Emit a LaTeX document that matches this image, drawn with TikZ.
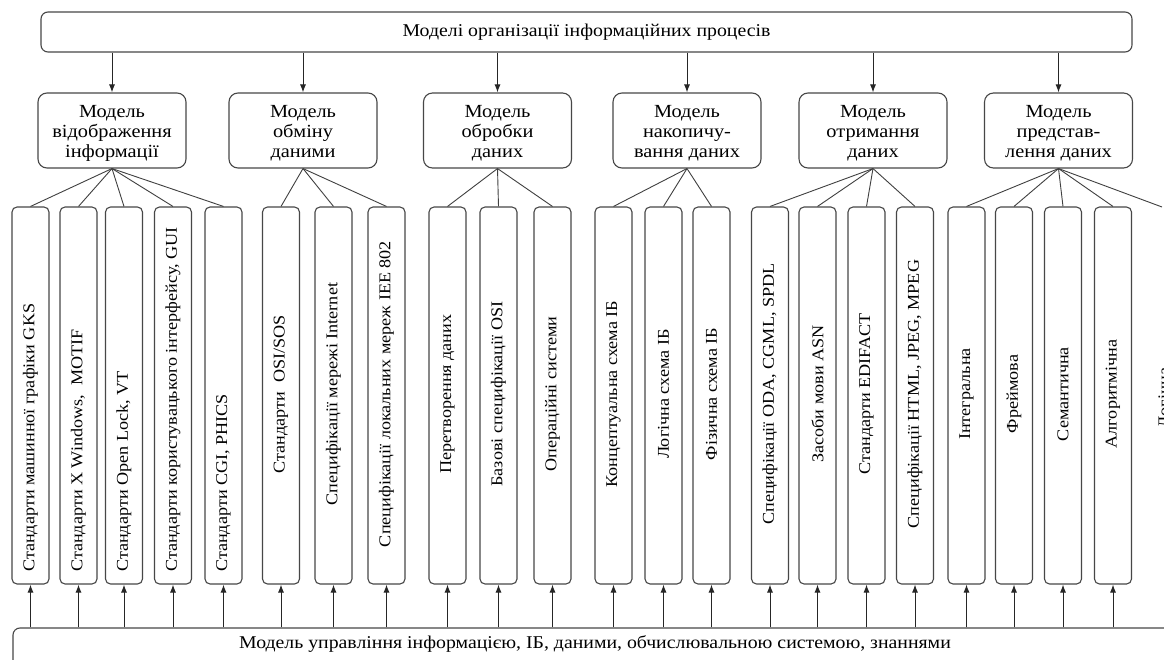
\documentclass[tikz,border=0pt]{standalone}
\usepackage{fontspec}
\setmainfont[FakeStretch=1.1]{Liberation Serif}
\usetikzlibrary{arrows.meta}
\begin{document}
\begin{tikzpicture}[x=1pt,y=-1pt,
  boxline/.style={draw=black!72,line width=1.1pt},
  topbox/.style={boxline,rounded corners=7pt,minimum width=1091pt,minimum height=40pt,inner sep=0pt,font=\fontsize{18}{20}\selectfont},
  modbox/.style={boxline,rounded corners=9pt,minimum width=148pt,minimum height=75pt,inner sep=0pt},
  modtext/.style={align=center,inner sep=0pt,font=\fontsize{18.5}{20}\selectfont},
  vbox/.style={boxline,rounded corners=5pt,minimum width=37pt,minimum height=377pt,inner sep=0pt},
  vtext/.style={rotate=90,inner sep=0pt,font=\fontsize{16.5}{18}\selectfont},
  arr/.style={draw=black!85,line width=1pt,-{Latex[length=8pt,width=6pt]}},
  link/.style={draw=black!75,line width=0.9pt}
]
\useasboundingbox (0,0) rectangle (1164,660);
\fill[white] (0,0) rectangle (1164,660);
\begin{scope}
\clip (0,0) rectangle (1164,660);

% top box
\node[topbox] (top) at (586.5,32) {Моделі організації інформаційних процесів};

% model boxes
\node[modbox] (m1) at (112,130.5) {};
\node[modbox] (m2) at (303,130.5) {};
\node[modbox] (m3) at (497.5,130.5) {};
\node[modbox] (m4) at (687,130.5) {};
\node[modbox] (m5) at (873,130.5) {};
\node[modbox] (m6) at (1058.5,130.5) {};
\node[modtext] at ([yshift=-3pt]m1.center) {Модель\\відображення\\інформації};
\node[modtext] at ([yshift=-3pt]m2.center) {Модель\\обміну\\даними};
\node[modtext] at ([yshift=-3pt]m3.center) {Модель\\обробки\\даних};
\node[modtext] at ([yshift=-3pt]m4.center) {Модель\\накопичу-\\вання даних};
\node[modtext] at ([yshift=-3pt]m5.center) {Модель\\отримання\\даних};
\node[modtext] at ([yshift=-3pt]m6.center) {Модель\\представ-\\лення даних};

\foreach \m in {1,...,6} \draw[arr] (top.south -| m\m) -- (m\m.north);

% vertical boxes
\foreach \n/\x in {1/30.5,2/78.5,3/124,4/173,5/223.5,6/281,7/333.5,8/386.5,
  9/447.5,10/498.5,11/552.5,12/613.5,13/663.5,14/711.5,15/770,16/817.5,
  17/866.5,18/915,19/966.5,20/1014,21/1063,22/1113}
  \node[vbox] (b\n) at (\x,395.5) {};

% texts anchored at bottom
\node[vtext,anchor=west] at (b1.center |- 0,572) {Стандарти машинної графіки GKS};
\node[vtext,anchor=west] at (b2.center |- 0,572) {Стандарти X Windows,\ \ MOTIF};
\node[vtext,anchor=west] at (b3.center |- 0,572) {Стандарти Open Lock, VT};
\node[vtext,anchor=west] at (b4.center |- 0,572) {Стандарти користувацького інтерфейсу, GUI};
\node[vtext,anchor=west] at (b5.center |- 0,572) {Стандарти CGI, PHICS};
% centered texts
\node[vtext] at (b6.center |- 0,394) {Стандарти\ \ OSI/SOS};
\node[vtext] at (b7.center |- 0,394) {Специфікації мережі Internet};
\node[vtext] at (b8.center |- 0,394) {Специфікації локальних мереж IEE 802};
\node[vtext] at (b9.center |- 0,394) {Перетворення даних};
\node[vtext] at (b10.center |- 0,394) {Базові специфікації OSI};
\node[vtext] at (b11.center |- 0,394) {Операційні системи};
\node[vtext] at (b12.center |- 0,394) {Концептуальна схема ІБ};
\node[vtext] at (b13.center |- 0,394) {Логічна схема ІБ};
\node[vtext] at (b14.center |- 0,394) {Фізична схема ІБ};
\node[vtext] at (b15.center |- 0,394) {Специфікації ODA, CGML, SPDL};
\node[vtext] at (b16.center |- 0,394) {Засоби мови ASN};
\node[vtext] at (b17.center |- 0,394) {Стандарти EDIFACT};
\node[vtext] at (b18.center |- 0,394) {Специфікації HTML, JPEG, MPEG};
\node[vtext] at (b19.center |- 0,394) {Інтегральна};
\node[vtext] at (b20.center |- 0,394) {Фреймова};
\node[vtext] at (b21.center |- 0,394) {Семантична};
\node[vtext] at (b22.center |- 0,394) {Алгоритмічна};
\node[vtext] (t23) at (1164,398) {Логічна};
\coordinate (c23) at (1162,207);

% links from model boxes
\foreach \n in {1,...,5} \draw[link] (m1.south) -- (b\n.north);
\foreach \n in {6,7,8} \draw[link] (m2.south) -- (b\n.north);
\foreach \n in {9,10,11} \draw[link] (m3.south) -- (b\n.north);
\foreach \n in {12,13,14} \draw[link] (m4.south) -- (b\n.north);
\foreach \n in {15,...,18} \draw[link] (m5.south) -- (b\n.north);
\foreach \n in {19,...,22} \draw[link] (m6.south) -- (b\n.north);
\draw[link] (m6.south) -- (c23);

% bottom box
\node[boxline,rounded corners=7pt,minimum width=1177pt,minimum height=62pt,inner sep=0pt] (bot) at (601.5,659) {};
\node[font=\fontsize{18}{20}\selectfont,inner sep=0pt] (bottext) at (595,644) {Модель управління інформацією, ІБ, даними, обчислювальною системою, знаннями};

\foreach \n in {1,...,22} \draw[arr] (b\n.south |- bot.north) -- (b\n.south);
\end{scope}
\end{tikzpicture}
\end{document}
